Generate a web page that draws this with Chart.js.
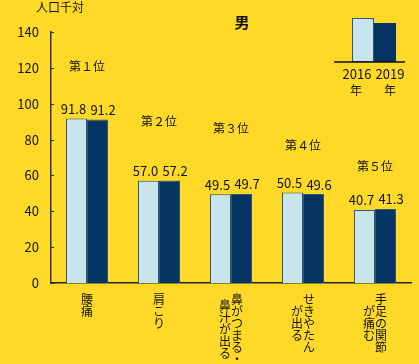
<!DOCTYPE html>
<html>
<head>
<meta charset="utf-8">
<script src="https://cdn.jsdelivr.net/npm/chart.js@4"></script>
<style>
  html, body { margin: 0; padding: 0; background: #fed927; }
  #wrap { width: 419px; height: 364px; }
</style>
</head>
<body>
<div id="wrap"><canvas id="chart" width="419" height="364"></canvas></div>
<script>
// données
const categories = [
  ['腰痛'],
  ['肩こり'],
  ['鼻がつまる・', '鼻汁が出る'],
  ['せきやたん', 'が出る'],
  ['手足の関節', 'が痛む']
];
const ranks = ['第１位', '第２位', '第３位', '第４位', '第５位'];
const values2016 = [91.8, 57.0, 49.5, 50.5, 40.7];
const values2019 = [91.2, 57.2, 49.7, 49.6, 41.3];
const yTicks = [0, 20, 40, 60, 80, 100, 120, 140];
// hauteur des libellés de rang (en unités de l'axe)
const rankLevels = [121, 90, 86, 77, 65];

const FONT = '"Noto Sans CJK JP", "Noto Sans", sans-serif';
const LIGHT = '#c8e4ec';
const DARK = '#063462';
const EDGE = '#2b5778';

// Plugin pour les annotations (titre, unité, légende, libellés)
const decorPlugin = {
  id: 'decor',
  afterDraw(chart) {
    const ctx = chart.ctx;
    const x = chart.scales.x;
    const y = chart.scales.y;
    ctx.save();
    ctx.fillStyle = '#111';

    // unité + titre
    ctx.font = '12px ' + FONT;
    ctx.textAlign = 'center';
    ctx.textBaseline = 'middle';
    ctx.fillText('人口千対', 60, 7);
    ctx.font = 'bold 15px ' + FONT;
    ctx.fillText('男', 242, 22);

    // petites graduations vers l'intérieur
    ctx.strokeStyle = '#333';
    ctx.lineWidth = 1;
    yTicks.forEach(v => {
      const py = Math.round(y.getPixelForValue(v)) + 0.5;
      ctx.beginPath();
      ctx.moveTo(x.left, py);
      ctx.lineTo(x.left + 3, py);
      ctx.stroke();
    });

    // rangs
    ctx.font = '12px ' + FONT;
    ranks.forEach((r, i) => {
      ctx.fillText(r, x.getPixelForValue(i), y.getPixelForValue(rankLevels[i]));
    });

    // valeurs au-dessus des barres (légèrement écartées)
    ctx.font = '13px ' + FONT;
    ctx.textBaseline = 'bottom';
    const shift = [-3, 5.5];
    chart.data.datasets.forEach((ds, di) => {
      chart.getDatasetMeta(di).data.forEach((bar, i) => {
        ctx.fillText(ds.data[i].toFixed(1), bar.x + shift[di], bar.y - 3);
      });
    });

    // catégories en écriture verticale
    ctx.font = '12px ' + FONT;
    ctx.textBaseline = 'middle';
    const step = 12;
    categories.forEach((cols, i) => {
      const cx = x.getPixelForValue(i);
      const maxLen = Math.max(...cols.map(c => c.length));
      cols.forEach((col, ci) => {
        const colX = cols.length === 1 ? cx : cx + 6 - ci * 12;
        const off = (maxLen - col.length) * step / 2;
        [...col].forEach((ch, k) => {
          ctx.fillText(ch, colX, y.bottom + 16 + off + k * step);
        });
      });
    });

    // légende en forme de mini-graphique
    ctx.lineWidth = 1;
    ctx.fillStyle = LIGHT;
    ctx.fillRect(352, 18, 22, 44);
    ctx.strokeStyle = EDGE;
    ctx.strokeRect(352.5, 18.5, 21, 43);
    ctx.fillStyle = DARK;
    ctx.fillRect(374, 23, 22, 39);
    ctx.strokeStyle = '#111';
    ctx.lineWidth = 1.5;
    ctx.beginPath();
    ctx.moveTo(334, 62);
    ctx.lineTo(405, 62);
    ctx.stroke();
    ctx.fillStyle = '#111';
    ctx.font = '13px ' + FONT;
    ctx.textBaseline = 'middle';
    ctx.fillText('2016', 357, 74);
    ctx.fillText('2019', 390, 74);
    ctx.font = '12px ' + FONT;
    ctx.fillText('年', 356, 90);
    ctx.fillText('年', 390, 90);

    ctx.restore();
  }
};

const chart = new Chart(document.getElementById('chart'), {
  type: 'bar',
  data: {
    labels: categories.map(c => c.join('')),
    datasets: [
      {
        label: '2016年',
        data: values2016,
        backgroundColor: LIGHT,
        borderColor: EDGE,
        borderWidth: 1
      },
      {
        label: '2019年',
        data: values2019,
        backgroundColor: DARK,
        borderColor: EDGE,
        borderWidth: 1
      }
    ]
  },
  options: {
    responsive: false,
    animation: false,
    layout: { padding: { top: 32, right: 8, bottom: 81, left: 0 } },
    plugins: {
      legend: { display: false },
      title: { display: false },
      tooltip: { enabled: false }
    },
    datasets: {
      bar: { categoryPercentage: 0.584, barPercentage: 1.0 }
    },
    scales: {
      x: {
        grid: { display: false, drawTicks: false },
        border: { color: '#222', width: 1.5 },
        ticks: { display: false }
      },
      y: {
        min: 0,
        max: 140,
        afterFit(scale) { scale.width = 51; },
        grid: { display: false, drawTicks: false },
        border: { color: '#333', width: 1.5 },
        ticks: {
          stepSize: 20,
          padding: 12,
          color: '#111',
          font: { family: FONT, size: 13 }
        }
      }
    }
  },
  plugins: [decorPlugin]
});
</script>
</body>
</html>
